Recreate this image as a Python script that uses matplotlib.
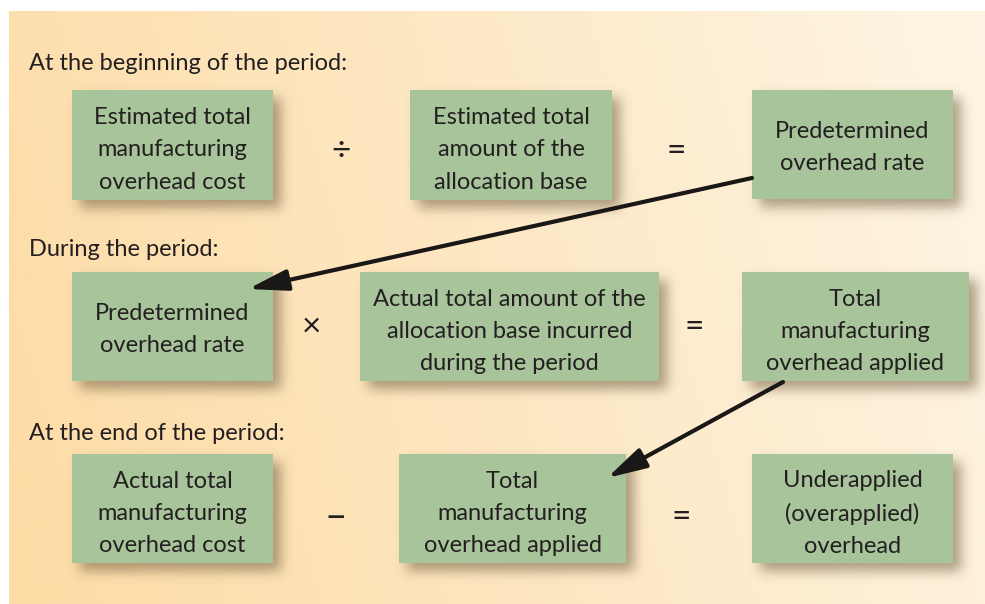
import matplotlib.pyplot as plt
import matplotlib.colors as mcolors
from matplotlib.patches import Rectangle, FancyArrowPatch
import numpy as np

W, H = 985, 604

# boxes: (x0, y0, x1, y1) in pixels, text
box_rects = [
    (72, 90, 273, 200), (410, 90, 612, 200), (752, 90, 953, 199),
    (72, 272, 273, 381), (360, 272, 659, 381), (742, 272, 969, 381),
    (72, 454, 273, 563), (399, 454, 626, 563), (752, 454, 953, 563),
]
box_texts = [
    "Estimated total\nmanufacturing\noverhead cost",
    "Estimated total\namount of the\nallocation base",
    "Predetermined\noverhead rate",
    "Predetermined\noverhead rate",
    "Actual total amount of the\nallocation base incurred\nduring the period",
    "Total\nmanufacturing\noverhead applied",
    "Actual total\nmanufacturing\noverhead cost",
    "Total\nmanufacturing\noverhead applied",
    "Underapplied\n(overapplied)\noverhead",
]
operators = ["÷", "=", "×", "=", "–", "="]
operator_xy = [(341, 151), (676, 151), (312, 327), (694, 327), (336, 517), (681, 517)]
section_labels = ["At the beginning of the period:", "During the period:", "At the end of the period:"]
section_y = [63, 250, 433]
arrows = [((752, 178), (248, 289)), ((783, 382), (607, 478))]

box_color = "#a8c49a"
text_color = "#231f20"
font = "Lato"
fs = 17

fig = plt.figure(figsize=(W / 100, H / 100), dpi=100)
ax = fig.add_axes([0, 0, 1, 1])
ax.set_xlim(0, W)
ax.set_ylim(H, 0)
ax.axis("off")

# background gradient (orange at left -> cream at right)
bg_x0, bg_y0 = 9, 11
left = np.array(mcolors.to_rgb("#fddba4"))
right = np.array(mcolors.to_rgb("#fdf5e4"))
gx = np.linspace(0, 1, 300)[None, :, None]
gy = np.linspace(0, 1, 200)[:, None, None]
t = np.clip(gx * 0.85 + (1 - gy) * 0.15, 0, 1)
grad = left * (1 - t) + right * t
ax.imshow(grad, extent=[bg_x0, W, H, bg_y0], aspect="auto", zorder=0, interpolation="bilinear")

# soft drop shadow under boxes
mask = np.zeros((H, W))
off = 8
for x0, y0, x1, y1 in box_rects:
    mask[y0 + off:y1 + off, x0 + off:x1 + off] = 1.0
sigma = 6
k = np.arange(-3 * sigma, 3 * sigma + 1)
kern = np.exp(-k ** 2 / (2 * sigma ** 2))
kern /= kern.sum()
mask = np.apply_along_axis(lambda r: np.convolve(r, kern, mode="same"), 1, mask)
mask = np.apply_along_axis(lambda c: np.convolve(c, kern, mode="same"), 0, mask)
shadow = np.zeros((H, W, 4))
shadow[..., :3] = mcolors.to_rgb("#6b5a3e")
shadow[..., 3] = mask * 0.55
ax.imshow(shadow, extent=[0, W, H, 0], aspect="auto", zorder=1, interpolation="bilinear")

for (x0, y0, x1, y1), txt in zip(box_rects, box_texts):
    ax.add_patch(Rectangle((x0, y0), x1 - x0, y1 - y0, facecolor=box_color, edgecolor="none", zorder=2))
    nudge = 1.6 * (txt.count("\n") + 1)  # ref text sits a little below centre
    ax.text((x0 + x1) / 2, (y0 + y1) / 2 + nudge, txt, ha="center", va="center", fontsize=fs,
            family=font, color=text_color, linespacing=1.66, zorder=3)

for op, (x, y) in zip(operators, operator_xy):
    size = 28 if op == "–" else 24
    ax.text(x, y, op, ha="center", va="center", fontsize=size, family=font, color=text_color, zorder=3)

for lab, y in zip(section_labels, section_y):
    ax.text(29, y, lab, ha="left", va="center", fontsize=fs, family=font, color=text_color, zorder=3)

for (p0, p1) in arrows:
    ax.add_patch(FancyArrowPatch(p0, p1, arrowstyle="-|>,head_length=1.2,head_width=0.32",
                                 mutation_scale=20, lw=3.0, color="#1a1717",
                                 shrinkA=0, shrinkB=0, zorder=4))

fig.savefig("out.png", dpi=100)
